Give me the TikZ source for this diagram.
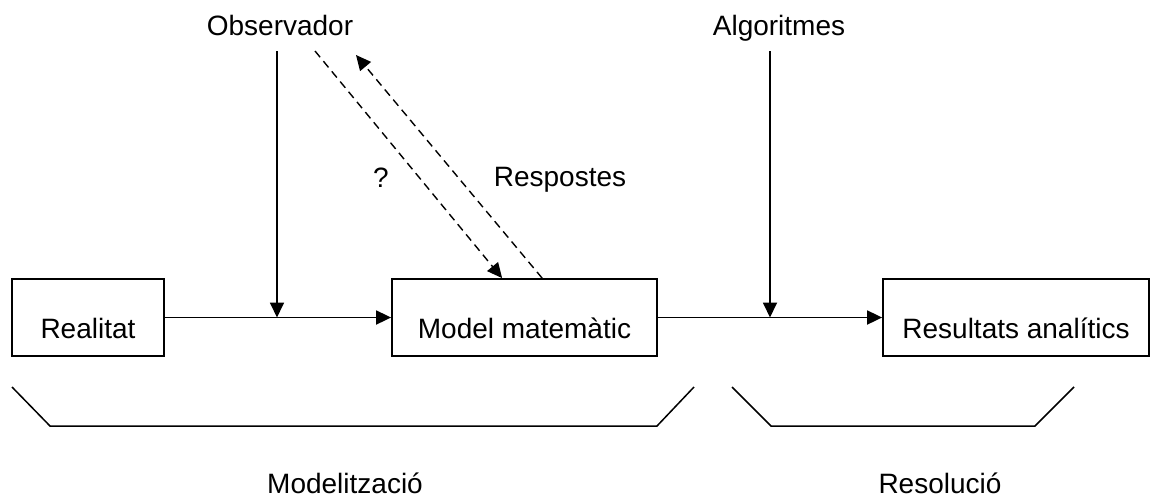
\documentclass[tikz,border=0pt]{standalone}
\usepackage{fontspec}
\setmainfont{Liberation Sans}
\usetikzlibrary{arrows.meta, positioning, calc}

\tikzset{
  caixa/.style={draw, line width=0.9pt, inner sep=0pt, text height=29.5pt, text depth=9pt, minimum height=38.5pt},
  fletxa/.style={line width=0.9pt, -{Triangle[length=7.5pt,width=7pt]}},
  discont/.style={line width=0.7pt, dash pattern=on 4pt off 2.6pt, -{Triangle[length=7.5pt,width=7pt]}},
  clau/.style={line width=0.75pt},
  etiq/.style={anchor=base, inner sep=0pt},
}

\begin{document}
\begin{tikzpicture}[x=0.5pt, y=-0.5pt, font=\fontsize{14}{16}\selectfont]
    \useasboundingbox (0,0) rectangle (1152,499);
    % caixes
    \node[caixa, minimum width=76pt] (real) at (88,317.5) {Realitat};
    \node[caixa, minimum width=132.5pt] (model) at (524.5,317.5) {Model matemàtic};
    \node[caixa, minimum width=133pt] (result) at (1016,317.5) {Resultats analítics};
    % entrades de dalt
    \node[etiq] (obs) at (280,35) {Observador};
    \node[etiq] (alg) at (779,35) {Algoritmes};
    \coordinate (obs in) at (277,51);
    \coordinate (alg in) at (770,51);
    % fletxes principals
    \draw[fletxa] (real.east) -- (model.west);
    \draw[fletxa] (obs in) -- (obs in |- real.east);
    \draw[fletxa] (model.east) -- (result.west);
    \draw[fletxa] (alg in) -- (alg in |- model.east);
    % preguntes i respostes
    \coordinate (preg a) at (315,51);
    \coordinate (preg b) at ($(model.north west)+(111,0)$);
    \coordinate (resp a) at ($(model.north west)+(151,0)$);
    \coordinate (resp b) at (356,55);
    \draw[discont] (preg a) -- (preg b);
    \draw[discont] (resp a) -- (resp b);
    \node[etiq] (preg) at (381,187) {?};
    \node[etiq] (resp) at (560,186) {Respostes};
    % claus
    \draw[clau] (12,387) -- (50,426) -- (657,426) -- (694,387);
    \draw[clau] (732,387) -- (771,426) -- (1035,426) -- (1074,387);
    \node[etiq] (modl) at (345,493) {Modelització};
    \node[etiq] (resl) at (940,493) {Resolució};
\end{tikzpicture}
\end{document}
